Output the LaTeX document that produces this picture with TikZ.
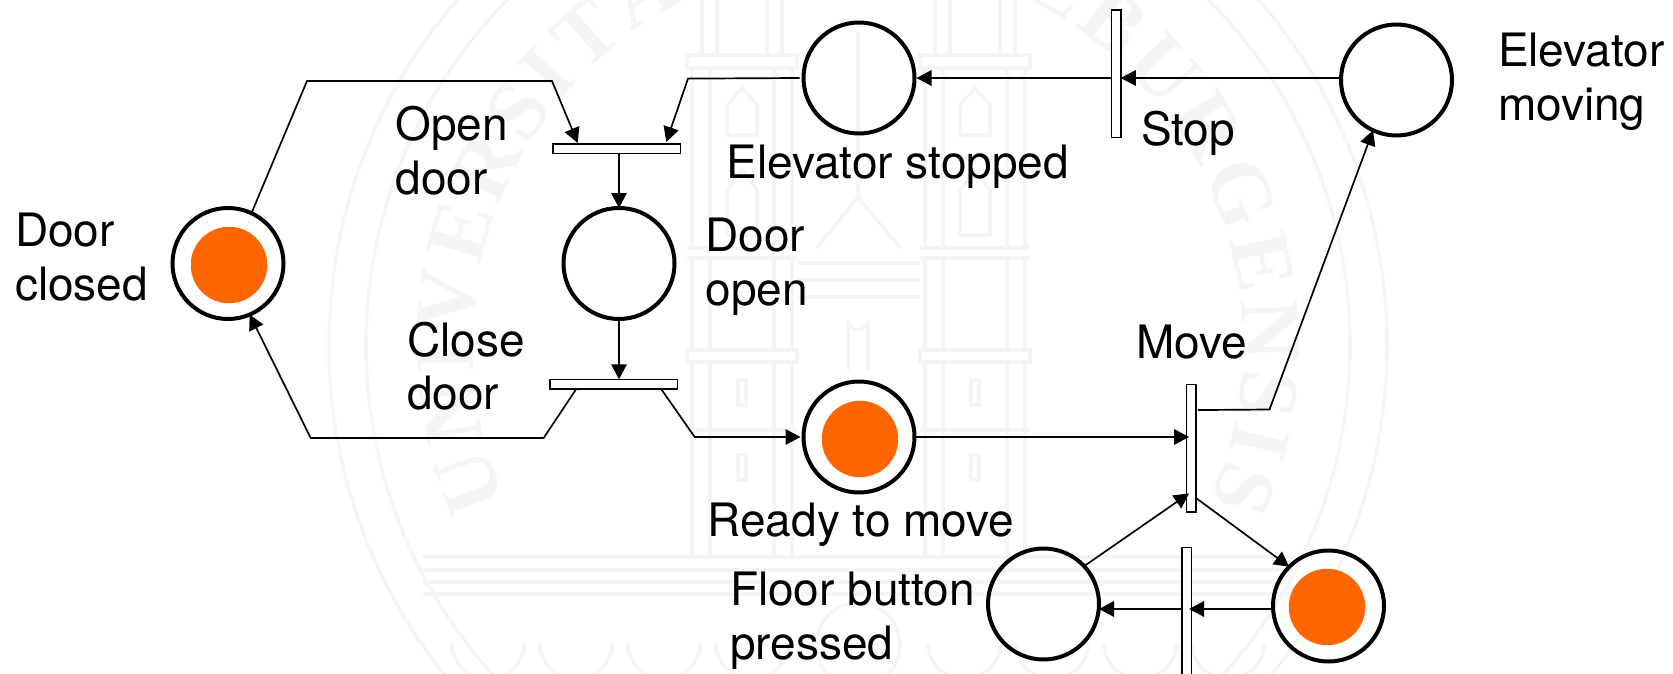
\documentclass[tikz,border=0pt]{standalone}
\usepackage{fontspec}
\setmainfont{TeX Gyre Heros}
\newfontfamily\wmserif{Liberation Serif}
\usetikzlibrary{arrows.meta,decorations.text,calc}
\definecolor{wmc}{HTML}{F5F5F5}
\definecolor{token}{HTML}{FF6600}
\newcommand{\wmfont}{\wmserif\bfseries\fontsize{85}{85}\selectfont}
\newcommand{\twolines}[2]{\vtop{\baselineskip=53.6pt\hbox{\strut #1}\hbox{\strut #2}}}
\tikzset{
  place/.style={circle,draw=black,line width=4pt,minimum size=111pt,inner sep=0pt,outer sep=0pt},
  tokendot/.style={circle,fill=token,minimum size=76.5pt,inner sep=0pt,outer sep=0pt},
  hbar/.style={rectangle,draw=black,fill=white,line width=1.5pt,minimum width=127.5pt,minimum height=9.5pt,inner sep=0pt,outer sep=0pt},
  vbar/.style={rectangle,draw=black,fill=white,line width=1.5pt,minimum width=9.5pt,minimum height=127.5pt,inner sep=0pt,outer sep=0pt},
  lbl/.style={anchor=base west,inner sep=0pt,outer sep=0pt,font=\fontsize{46}{53.6}\selectfont},
  arc line/.style={draw=black,line width=1.7pt,-{Triangle[length=15pt,width=15.5pt]}},
  wm/.style={draw=wmc,line width=3.5pt},
}
\begin{document}
\begin{tikzpicture}[x=1pt,y=-1pt]
\useasboundingbox (0,0) rectangle (1673,674);
% faint seal in the background
\begin{scope}[wm]
  \draw (858,345) circle[radius=529];
  \draw (858,345) circle[radius=492];
  \foreach \c in {742,975}{
    \foreach \o in {-40,-25,25,40}{\draw (\c+\o,0) -- (\c+\o,55);}
    \draw (\c-55,55) rectangle (\c+55,68);
    \foreach \o in {-50,-32,32,50}{
      \draw (\c+\o,68) -- (\c+\o,248);
      \draw (\c+\o,258) -- (\c+\o,350);
      \draw (\c+\o,362) -- (\c+\o,557);
    }
    \draw (\c-55,248) -- (\c+55,248) (\c-55,258) -- (\c+55,258);
    \draw (\c-55,350) rectangle (\c+55,362);
    \draw (\c-55,430) -- (\c+55,430);
    \draw (\c-15,135) -- (\c-15,105) -- (\c,88) -- (\c+15,105) -- (\c+15,135) -- cycle;
    \draw (\c-15,235) -- (\c-15,190) -- (\c,170) -- (\c+15,190) -- (\c+15,235) -- cycle;
    \draw (\c-4,380) rectangle (\c+4,405);
    \draw (\c-4,455) rectangle (\c+4,480);
  }
  \draw (858,30) -- (858,195);
  \draw (817,248) -- (858,197) -- (900,248);
  \foreach \y in {263,280,297}{\draw (797,\y) -- (920,\y);}
  \draw (848,370) -- (848,320) arc[start angle=180,end angle=0,radius=10] -- (868,370);
  \foreach \y in {557,570,582,594}{\draw (423,\y) -- (1293,\y);}
  \foreach \o in {-370,-282,-194,-106,106,194,282,370}{
    \draw (858+\o-36,654) -- (858+\o-36,643) arc[start angle=180,end angle=0,radius=36] -- (858+\o+36,654);
  }
  \draw (858,645) circle[radius=42];
\end{scope}
\begin{scope}[shift={(858,345)},x=1pt,y=1pt]
  \path[decorate,decoration={text along path,text align={fit to path},
    text={|\color{wmc}\wmfont|UNIVERSITAS WIRCEBURGENSIS}}]
    (204:385) arc[start angle=204,end angle=-24,radius=385];
\end{scope}
% places
\node[place] (dc) at (228,263.5) {};
\node[tokendot] (dct) at (229,265) {};
\node[place] (dop) at (619,263.5) {};
\node[place] (es) at (859,78) {};
\node[place] (em) at (1396.5,80) {};
\node[place] (rm) at (859,437) {};
\node[tokendot] (rmt) at (860,439) {};
\node[place] (fb) at (1043.5,604) {};
\node[place] (lr) at (1328.5,606) {};
\node[tokendot] (lrt) at (1327,607) {};
% transitions
\node[hbar] (top) at (616.5,148.7) {};
\node[hbar] (tcl) at (613.7,384) {};
\node[vbar] (tst) at (1116,73.7) {};
\node[vbar] (tmv) at (1191.3,448.3) {};
\node[vbar] (tlo) at (1186.8,611) {};
% bend points
\coordinate (b1) at (307,81);
\coordinate (b2) at (552,81);
\coordinate (b3) at (688,78.6);
\coordinate (b4) at (543.6,438);
\coordinate (b5) at (310.7,438);
\coordinate (b6) at (694.7,437);
\coordinate (b7) at (1269.5,409.5);
% connectors
\draw[arc line] (dc.65) -- (b1) -- (b2) -- ([xshift=25pt,yshift=1pt]top.north west);
\draw[arc line] ([xshift=-4pt]es.west) -- (b3) -- ([xshift=-14pt,yshift=2pt]top.north east);
\draw[arc line] (top.south -| dop.north) -- (dop.north);
\draw[arc line] (dop.south) -- (tcl.north -| dop.south);
\draw[arc line] ([xshift=26.5pt]tcl.south west) -- (b4) -- (b5) -- (dc.-67);
\draw[arc line] ([xshift=-16.5pt]tcl.south east) -- (b6) -- ([xshift=-3pt]rm.west |- b6);
\draw[arc line] (rm.east) -- ([xshift=2.5pt]tmv.west |- rm.east);
\draw[arc line] ([xshift=1.8pt,yshift=-25.5pt]tmv.north east) -- (b7) -- (em.-115);
\draw[arc line] (fb.43) -- ([xshift=2.5pt,yshift=18.6pt]tmv.south west);
\draw[arc line] ([yshift=14pt]tmv.south east) -- (lr.135);
\draw[arc line] ([xshift=-2pt]lr.west |- 0,609) -- ([xshift=-2.5pt]tlo.east |- 0,609);
\draw[arc line] (tlo.west |- 0,609) -- (fb.east |- 0,609);
\draw[arc line] (em.west |- 0,78) -- (tst.east |- 0,78);
\draw[arc line] (tst.west |- 0,78) -- ([xshift=2pt]es.east);
% labels
\node[lbl] (l1) at (15,246.5) {\twolines{Door}{closed}};
\node[lbl] (l2) at (395.5,141) {\twolines{Open}{door}};
\node[lbl] (l3) at (407,356) {\twolines{Close}{door}};
\node[lbl] (l4) at (705.5,251.5) {\twolines{Door}{open}};
\node[lbl] (l5) at (726.5,178.5) {Elevator stopped};
\node[lbl] (l6) at (707.5,536.5) {Ready to move};
\node[lbl] (l7) at (730,605.5) {\twolines{Floor button}{pressed}};
\node[lbl] (l8) at (1141,146) {Stop};
\node[lbl] (l9) at (1136,358.5) {Move};
\node[lbl] (l10) at (1498,66.5) {\twolines{Elevator}{moving}};
\end{tikzpicture}
\end{document}
